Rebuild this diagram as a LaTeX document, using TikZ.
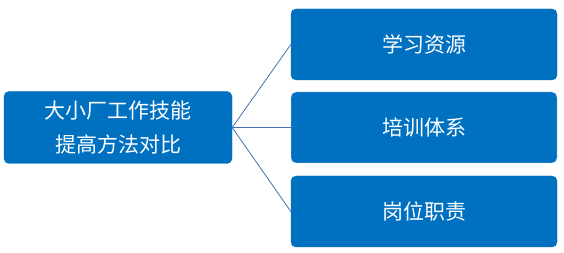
\documentclass[tikz,border=0pt]{standalone}
\usepackage{fontspec}
\newfontfamily\cjk{Noto Sans CJK SC}
\usetikzlibrary{calc,positioning}
\definecolor{boxblue}{RGB}{0,112,192}
\definecolor{linkblue}{RGB}{68,114,176}
\tikzset{
  box/.style={draw=boxblue,fill=boxblue,rounded corners=5pt,align=center,text=white,
              font=\cjk\fontsize{21}{34}\selectfont,inner sep=0pt},
  link/.style={draw=linkblue,line width=0.8pt}
}
\begin{document}
\begin{tikzpicture}[x=1pt,y=1pt,rb/.style={box,minimum width=266pt,minimum height=71pt}]
  \useasboundingbox (0,0) rectangle (564,-253);
  \node[box,minimum width=228pt,minimum height=72pt] (root) at (118,-127.5) {大小厂工作技能\\提高方法对比};
  \node[rb] (r1) at (424,-44.5)  {学习资源};
  \node[rb,draw=white!75!boxblue] (r2) at (424,-127.5) {培训体系};
  \node[rb] (r3) at (424,-211.5) {岗位职责};
  \draw[link] (root.east)--(r1.west); \draw[link] (root.east)--(r2.west);
  \draw[link] (root.east)--(r3.west);
\end{tikzpicture}
\end{document}
